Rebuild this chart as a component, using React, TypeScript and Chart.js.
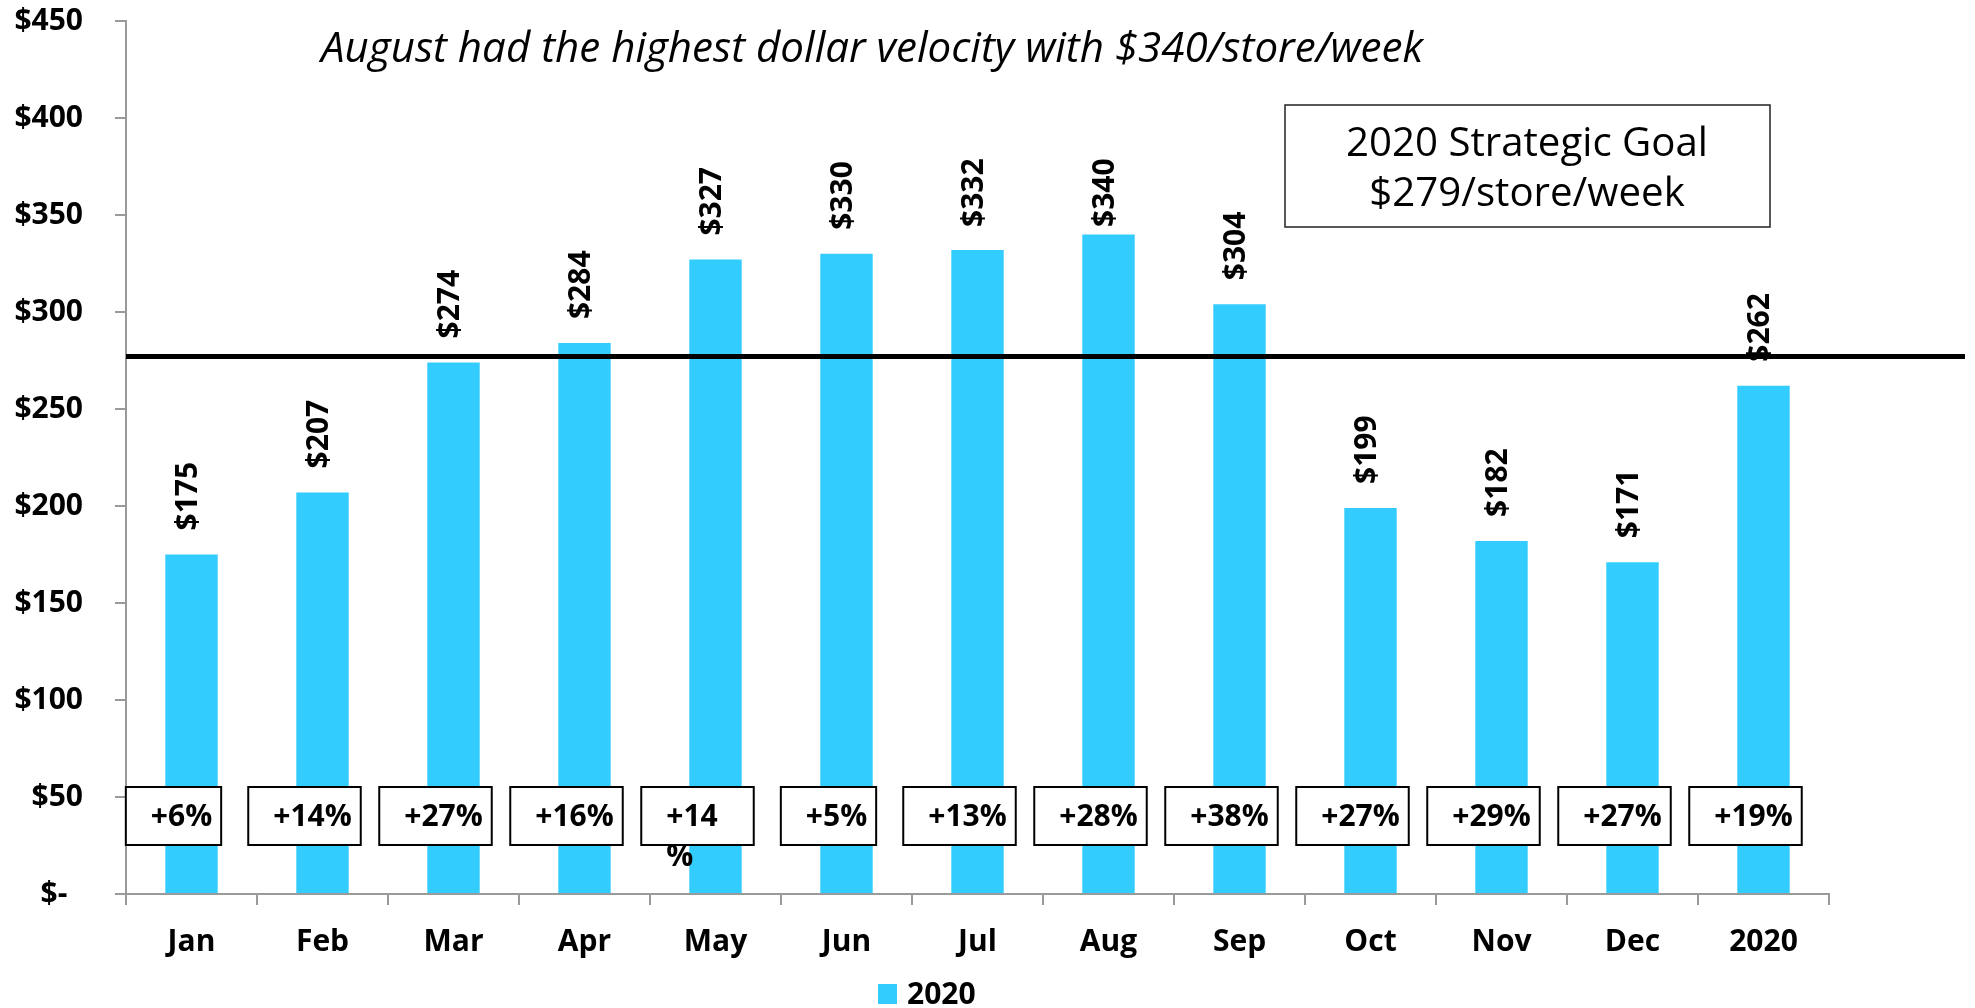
import React, { useEffect, useRef } from 'react';
import { Chart, registerables } from 'chart.js';

Chart.register(...registerables);

// ---------- data ----------
const categories = ['Jan', 'Feb', 'Mar', 'Apr', 'May', 'Jun', 'Jul', 'Aug', 'Sep', 'Oct', 'Nov', 'Dec', '2020'];
const velocity2020 = [175, 207, 274, 284, 327, 330, 332, 340, 304, 199, 182, 171, 262];
const growthLabels = ['+6%', '+14%', '+27%', '+16%', '+14\n%', '+5%', '+13%', '+28%', '+38%', '+27%', '+29%', '+27%', '+19%'];
const yMin = 0;
const yMax = 450;
const yStep = 50;
const goalValue = 277;
const seriesName = '2020';
const titleText = 'August had the highest dollar velocity with $340/store/week';
const goalText = ['2020 Strategic Goal', '$279/store/week'];

// ---------- styles ----------
const FONT = '"Open Sans", "DejaVu Sans", sans-serif';
const BAR_COLOR = '#33CCFF';
const AXIS_COLOR = '#9a9a9a';

const overlay = {
  id: 'overlay',
  afterDraw(chart: any) {
    const ctx: CanvasRenderingContext2D = chart.ctx;
    const xs = chart.scales.x;
    const ys = chart.scales.y;
    const area = chart.chartArea;
    const meta = chart.getDatasetMeta(0);
    ctx.save();

    // value labels (rotated), kept below a ceiling near the plot top
    ctx.font = `bold 30px ${FONT}`;
    ctx.fillStyle = '#000';
    meta.data.forEach((bar: any, i: number) => {
      const base = Math.max(bar.y - 24, area.top + 206);
      ctx.save();
      ctx.translate(bar.x - 3, base);
      ctx.rotate(-Math.PI / 2);
      ctx.textAlign = 'left';
      ctx.textBaseline = 'middle';
      ctx.fillText('$' + velocity2020[i], 0, 0);
      ctx.restore();
    });

    // growth boxes
    ctx.font = `bold 30px ${FONT}`;
    growthLabels.forEach((lab, i) => {
      const lines = lab.split('\n');
      const tw = ctx.measureText(lines.join('')).width;
      const w = tw + 34;
      const h = 58;
      const cx = xs.getPixelForValue(i) - 18;
      const cy = area.bottom - 78;
      const left = cx - w / 2;
      const top = cy - h / 2;
      ctx.fillStyle = '#fff';
      ctx.fillRect(left, top, w, h);
      ctx.strokeStyle = '#000';
      ctx.lineWidth = 2;
      ctx.strokeRect(left, top, w, h);
      ctx.fillStyle = '#000';
      ctx.textAlign = 'left';
      ctx.textBaseline = 'middle';
      lines.forEach((ln, j) => ctx.fillText(ln, left + 25, cy + 1 + j * 40));
    });

    // goal line
    const gy = ys.getPixelForValue(goalValue);
    ctx.strokeStyle = '#000';
    ctx.lineWidth = 5;
    ctx.beginPath();
    ctx.moveTo(area.left, gy);
    ctx.lineTo(chart.width - 10, gy);
    ctx.stroke();

    // goal box
    ctx.lineWidth = 1.5;
    ctx.strokeStyle = '#222';
    ctx.fillStyle = '#fff';
    ctx.fillRect(1285, 105, 485, 122);
    ctx.strokeRect(1285, 105, 485, 122);
    ctx.fillStyle = '#000';
    ctx.font = `41px ${FONT}`;
    const gsx = 362 / ctx.measureText(goalText[0]).width;
    goalText.forEach((t, j) => {
      ctx.save();
      ctx.translate(1527, 156 + j * 50);
      ctx.scale(gsx, 1);
      ctx.textAlign = 'center';
      ctx.textBaseline = 'alphabetic';
      ctx.fillText(t, 0, 0);
      ctx.restore();
    });

    // title
    ctx.font = `italic 42px ${FONT}`;
    const tsx = 1102 / ctx.measureText(titleText).width;
    ctx.save();
    ctx.translate(321, 62);
    ctx.scale(tsx, 1);
    ctx.textAlign = 'left';
    ctx.textBaseline = 'alphabetic';
    ctx.fillText(titleText, 0, 0);
    ctx.restore();

    // legend
    ctx.fillStyle = BAR_COLOR;
    ctx.fillRect(878, 984, 19, 20);
    ctx.fillStyle = '#000';
    ctx.font = `bold 30px ${FONT}`;
    ctx.textAlign = 'left';
    ctx.textBaseline = 'middle';
    ctx.fillText(chart.data.datasets[0].label, 907, 995);

    ctx.restore();
  },
};

export default function App() {
  const ref = useRef<HTMLCanvasElement | null>(null);

  useEffect(() => {
    if (!ref.current) return;
    const chart = new Chart(ref.current, {
      type: 'bar',
      data: {
        labels: categories,
        datasets: [
          {
            label: seriesName,
            data: velocity2020,
            backgroundColor: BAR_COLOR,
            barPercentage: 0.4,
            categoryPercentage: 1.0,
          },
        ],
      },
      options: {
        responsive: false,
        animation: false,
        devicePixelRatio: 1,
        layout: { padding: { left: 0, top: 21, right: 146, bottom: 0 } },
        plugins: {
          legend: { display: false },
          tooltip: { enabled: false },
        },
        scales: {
          x: {
            offset: true,
            grid: {
              offset: true,
              drawOnChartArea: false,
              drawTicks: true,
              tickLength: 11,
              color: AXIS_COLOR,
              lineWidth: 2,
            },
            border: { display: true, color: AXIS_COLOR, width: 2 },
            ticks: {
              color: '#000',
              font: { family: FONT, size: 30, weight: 'bold' },
              padding: 19,
              maxRotation: 0,
              autoSkip: false,
            },
            afterFit: (s: any) => {
              s.height = 114;
            },
          },
          y: {
            min: yMin,
            max: yMax,
            ticks: {
              stepSize: yStep,
              color: '#000',
              font: { family: FONT, size: 30, weight: 'bold' },
              padding: 32,
              callback: (v: any) => (Number(v) === 0 ? '$-  ' : '$' + v),
            },
            grid: {
              drawOnChartArea: false,
              drawTicks: true,
              tickLength: 11,
              color: AXIS_COLOR,
              lineWidth: 2,
            },
            border: { display: true, color: AXIS_COLOR, width: 2 },
            afterFit: (s: any) => {
              s.width = 126;
              s.paddingTop = 0;
              s.paddingBottom = 0;
            },
          },
        },
      },
      plugins: [overlay],
    });
    return () => chart.destroy();
  }, []);

  return (
    <div style={{ position: 'absolute', left: 0, top: 0, width: 1975, height: 1008, background: '#fff' }}>
      <canvas ref={ref} width={1975} height={1008} style={{ display: 'block' }} />
    </div>
  );
}
